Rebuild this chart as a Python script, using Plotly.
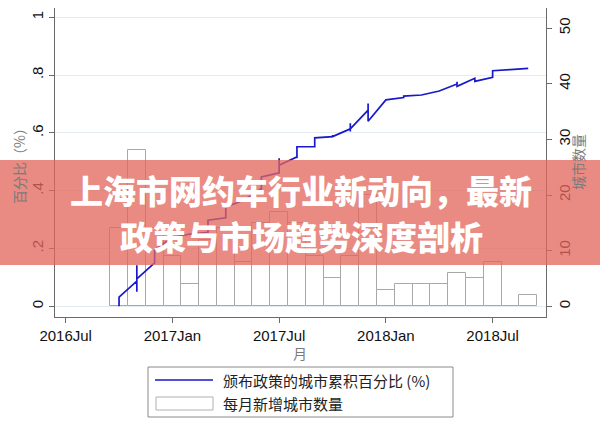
import plotly.graph_objects as go

# ---------------- data ----------------
bar_months = ["2016-10", "2016-11", "2016-12", "2017-01", "2017-02", "2017-03",
              "2017-04", "2017-05", "2017-06", "2017-07", "2017-08", "2017-09",
              "2017-10", "2017-11", "2017-12", "2018-01", "2018-02", "2018-03",
              "2018-04", "2018-05", "2018-06", "2018-07", "2018-08", "2018-09"]
bar_counts = [14, 28, 14, 9, 4, 12, 14, 8, 15, 17, 15, 9,
              5, 9, 20, 3, 4, 4, 4, 6, 5, 8, 0, 2]

line_months = ["2016-10", "2016-10",
               "2016-11", "2016-11", "2016-11", "2016-11",
               "2016-12", "2016-12", "2016-12", "2016-12",
               "2017-01", "2017-02",
               "2017-03", "2017-03",
               "2017-04", "2017-04",
               "2017-05",
               "2017-06", "2017-06", "2017-06",
               "2017-07", "2017-07", "2017-07",
               "2017-08", "2017-08", "2017-08",
               "2017-09", "2017-09",
               "2017-10", "2017-10", "2017-10",
               "2017-11", "2017-11", "2017-11", "2017-11",
               "2017-12", "2017-12", "2017-12",
               "2018-01",
               "2018-02", "2018-02",
               "2018-03",
               "2018-04",
               "2018-05", "2018-05", "2018-05",
               "2018-06", "2018-06",
               "2018-07", "2018-07",
               "2018-08", "2018-09"]
line_values = [0.000, 0.032,
               0.087, 0.050, 0.142, 0.095,
               0.150, 0.194, 0.168, 0.196,
               0.238, 0.250,
               0.256, 0.298,
               0.306, 0.344,
               0.367,
               0.408, 0.402, 0.448,
               0.462, 0.512, 0.488,
               0.517, 0.512, 0.552,
               0.552, 0.583,
               0.587, 0.593, 0.587,
               0.614, 0.633, 0.605, 0.614,
               0.679, 0.702, 0.640,
               0.714,
               0.722, 0.727,
               0.731,
               0.745,
               0.769, 0.777, 0.761,
               0.789, 0.778,
               0.792, 0.815,
               0.819, 0.823]

x_tick_months = ["2016-07", "2017-01", "2017-07", "2018-01", "2018-07"]
x_tick_labels = ["2016Jul", "2017Jan", "2017Jul", "2018Jan", "2018Jul"]
left_ticks = [0, 0.2, 0.4, 0.6, 0.8, 1.0]
left_tick_labels = ["0", ".2", ".4", ".6", ".8", "1"]
right_ticks = [0, 10, 20, 30, 40, 50]
right_tick_labels = ["0", "10", "20", "30", "40", "50"]

line_name = "颁布政策的城市累积百分比 (%)"
bar_name = "每月新增城市数量"
title_lines = ["上海市网约车行业新动向，最新", "政策与市场趋势深度剖析"]


def midx(s):
    y, m = s.split("-")
    return (int(y) - 2016) * 12 + int(m) - 7


# ---------------- geometry helpers ----------------
W, H = 600, 427
ML, MR, MT, MB = 55, 54, 8, 110
PW, PH = W - ML - MR, H - MT - MB


def px(x):
    return (x - ML) / PW


def py(y):
    return (H - MB - y) / PH


AX = "#6a6a6a"
SANS = "Liberation Sans, Arial, sans-serif"
CJK = "Noto Sans CJK SC, sans-serif"

fig = go.Figure()

fig.add_trace(go.Bar(
    x=[midx(m) for m in bar_months], y=bar_counts, width=1.0,
    marker=dict(color="white", line=dict(color="#a8a8a8", width=1)),
    name=bar_name, yaxis="y", showlegend=False))

fig.add_trace(go.Scatter(
    x=[midx(m) for m in line_months], y=line_values, mode="lines",
    line=dict(color="#1818cc", width=1.7),
    name=line_name, yaxis="y2", showlegend=False))

fig.update_layout(
    width=W, height=H,
    margin=dict(l=ML, r=MR, t=MT, b=MB),
    paper_bgcolor="white", plot_bgcolor="white",
    bargap=0,
    xaxis=dict(range=[-0.6, 27.0], tickvals=[midx(m) for m in x_tick_months],
               ticktext=x_tick_labels, showgrid=False, zeroline=False,
               showline=True, linecolor=AX, linewidth=1,
               ticks="outside", ticklen=5, tickcolor=AX,
               tickfont=dict(family=SANS, size=15, color="#111")),
    yaxis=dict(side="right", range=[-1.92, 53.6], tickvals=right_ticks,
               ticktext=right_tick_labels, tickangle=-90, showgrid=False,
               zeroline=False, showline=True, linecolor=AX, linewidth=1,
               ticks="outside", ticklen=5, tickcolor=AX,
               tickfont=dict(family=SANS, size=15, color="#111")),
    yaxis2=dict(side="left", overlaying="y", range=[-0.037, 1.032],
                tickvals=left_ticks, ticktext=left_tick_labels, tickangle=-90,
                showgrid=True, gridcolor="#e3ecee", gridwidth=1,
                zeroline=False, showline=True, linecolor=AX, linewidth=1,
                ticks="outside", ticklen=5, tickcolor=AX,
                tickfont=dict(family=SANS, size=15, color="#111")),
)

shapes = []
annotations = []


def note(x, y, text, size, color, xanchor="center", angle=0, family=CJK,
         weight="normal"):
    annotations.append(dict(xref="paper", yref="paper", x=px(x), y=py(y),
                            xanchor=xanchor, yanchor="middle", text=text,
                            textangle=angle, showarrow=False,
                            font=dict(family=family, size=size, color=color,
                                      weight=weight)))


# axis titles
note(19, 163, "百分比（%）", 14, "#7a7a7a", angle=-90)
note(578, 162, "城市数量", 14, "#7a7a7a", angle=-90)
note(300, 353, "月", 14, "#7a7a7a")

# legend box
shapes.append(dict(type="rect", xref="paper", yref="paper",
                   x0=px(148), x1=px(453), y0=py(367), y1=py(417),
                   line=dict(color="#8a8a8a", width=1), fillcolor="white"))
shapes.append(dict(type="line", xref="paper", yref="paper",
                   x0=px(155), x1=px(213), y0=py(380), y1=py(380),
                   line=dict(color="#1818cc", width=1.7)))
shapes.append(dict(type="rect", xref="paper", yref="paper",
                   x0=px(156), x1=px(213), y0=py(397), y1=py(410),
                   line=dict(color="#b0b0b0", width=1), fillcolor="white"))
note(221, 380, line_name, 15, "#222", xanchor="left")
note(221, 404, bar_name, 15, "#222", xanchor="left")

# banner overlay
shapes.append(dict(type="rect", xref="paper", yref="paper", layer="above",
                   x0=px(0), x1=px(600), y0=py(160), y1=py(265),
                   line=dict(width=0), fillcolor="rgba(226,102,92,0.76)"))
note(301, 189.5, title_lines[0], 33, "white", weight=900)
note(301, 235.5, title_lines[1], 33, "white", weight=900)

fig.update_layout(shapes=shapes, annotations=annotations)
fig.write_html("out.html",
               config={"displayModeBar": False},
               post_script="document.body.style.margin='0px';"
                           "document.body.style.padding='0px';")
